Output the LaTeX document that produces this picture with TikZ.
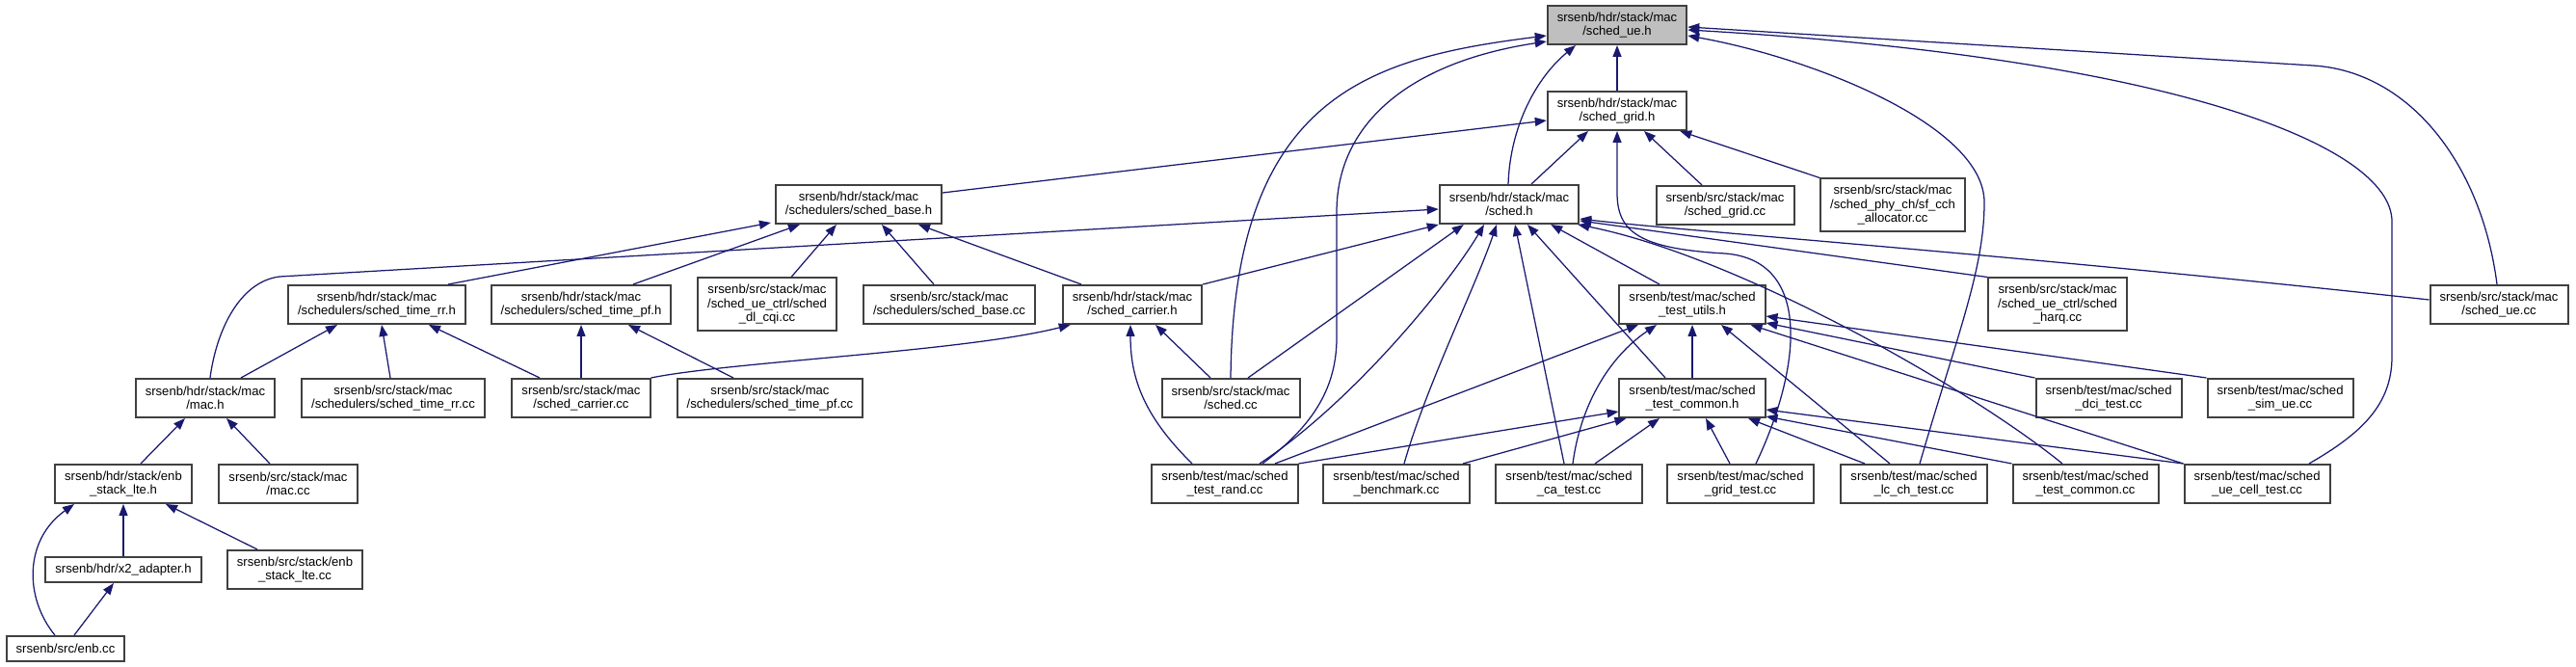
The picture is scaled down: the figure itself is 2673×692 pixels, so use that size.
\documentclass[tikz,border=0pt]{standalone}
\usepackage{fontspec}
\setmainfont{Liberation Sans}
\usetikzlibrary{arrows.meta}
\definecolor{edgeblue}{RGB}{25,25,112}
\definecolor{boxline}{RGB}{64,64,64}

\begin{document}
\begin{tikzpicture}[
    x=1pt, y=-1pt,
    file/.style={draw=boxline, line width=2pt, fill=white, align=center,
                 inner xsep=10pt, inner ysep=0pt, minimum height=40pt,
                 font=\fontsize{13.1}{14.5}\selectfont},
    file3/.style={file, minimum height=55pt},
    file1/.style={file, minimum height=26pt},
    target/.style={file, fill=black!25},
    inc/.style={draw=edgeblue, line width=1.25pt,
                -{Triangle[length=12pt, width=9pt]}},
]
\useasboundingbox (0,0) rectangle (2673,692);

% Rank 0: the header itself
\node[target] (ue) at (1678,26) {srsenb/hdr/stack/mac\\/sched\_ue.h};
% Rank 1
\node[file] (grid) at (1678,115) {srsenb/hdr/stack/mac\\/sched\_grid.h};
% Rank 2
\node[file] (base) at (891,212) {srsenb/hdr/stack/mac\\/schedulers/sched\_base.h};
\node[file] (sched) at (1566,212) {srsenb/hdr/stack/mac\\/sched.h};
\node[file] (gridcc) at (1790,213) {srsenb/src/stack/mac\\/sched\_grid.cc};
\node[file3] (cch) at (1964,213) {srsenb/src/stack/mac\\/sched\_phy\_ch/sf\_cch\\\_allocator.cc};
% Rank 3
\node[file] (rrh) at (391,316) {srsenb/hdr/stack/mac\\/schedulers/sched\_time\_rr.h};
\node[file] (pfh) at (603,316) {srsenb/hdr/stack/mac\\/schedulers/sched\_time\_pf.h};
\node[file3] (cqi) at (796,316) {srsenb/src/stack/mac\\/sched\_ue\_ctrl/sched\\\_dl\_cqi.cc};
\node[file] (basecc) at (985,316) {srsenb/src/stack/mac\\/schedulers/sched\_base.cc};
\node[file] (carrier) at (1175,316) {srsenb/hdr/stack/mac\\/sched\_carrier.h};
\node[file] (utils) at (1756,316) {srsenb/test/mac/sched\\\_test\_utils.h};
\node[file3] (harq) at (2135,316) {srsenb/src/stack/mac\\/sched\_ue\_ctrl/sched\\\_harq.cc};
\node[file] (uecc) at (2593,316) {srsenb/src/stack/mac\\/sched\_ue.cc};
% Rank 4
\node[file] (mach) at (213,413) {srsenb/hdr/stack/mac\\/mac.h};
\node[file] (rrcc) at (408,413) {srsenb/src/stack/mac\\/schedulers/sched\_time\_rr.cc};
\node[file] (carriercc) at (603,413) {srsenb/src/stack/mac\\/sched\_carrier.cc};
\node[file] (pfcc) at (799,413) {srsenb/src/stack/mac\\/schedulers/sched\_time\_pf.cc};
\node[file] (schedcc) at (1277,413) {srsenb/src/stack/mac\\/sched.cc};
\node[file] (common) at (1756,413) {srsenb/test/mac/sched\\\_test\_common.h};
\node[file] (dci) at (2188,413) {srsenb/test/mac/sched\\\_dci\_test.cc};
\node[file] (simue) at (2366,413) {srsenb/test/mac/sched\\\_sim\_ue.cc};
% Rank 5
\node[file] (stackh) at (128,502) {srsenb/hdr/stack/enb\\\_stack\_lte.h};
\node[file] (maccc) at (299,502) {srsenb/src/stack/mac\\/mac.cc};
\node[file] (rand) at (1271,502) {srsenb/test/mac/sched\\\_test\_rand.cc};
\node[file] (bench) at (1449,502) {srsenb/test/mac/sched\\\_benchmark.cc};
\node[file] (catest) at (1628,502) {srsenb/test/mac/sched\\\_ca\_test.cc};
\node[file] (gridtest) at (1806,502) {srsenb/test/mac/sched\\\_grid\_test.cc};
\node[file] (lctest) at (1986,502) {srsenb/test/mac/sched\\\_lc\_ch\_test.cc};
\node[file] (commoncc) at (2164,502) {srsenb/test/mac/sched\\\_test\_common.cc};
\node[file] (uecell) at (2342,502) {srsenb/test/mac/sched\\\_ue\_cell\_test.cc};
% Rank 6 and 7
\node[file1] (x2) at (128,591) {srsenb/hdr/x2\_adapter.h};
\node[file] (stackcc) at (306,591) {srsenb/src/stack/enb\\\_stack\_lte.cc};
\node[file1] (enbcc) at (68,673) {srsenb/src/enb.cc};

% includes of sched_ue.h
\draw[inc] (grid.north) -- (ue.south);
\draw[inc] ([xshift=-1pt]sched.north) .. controls (1567,130) and (1595,80) .. ([xshift=-43pt]ue.south);
\draw[inc] (schedcc.north) .. controls (1280,100) and (1420,60) .. ([yshift=-11pt]ue.west);
\draw[inc] ([xshift=39pt]rand.north) .. controls (1365,440) and (1387,400) .. (1387,350)
      -- (1387,220) .. controls (1387,130) and (1460,65) .. ([yshift=-17pt]ue.west);
\draw[inc] ([xshift=-2pt]uecc.north) .. controls (2575,170) and (2500,74) .. (2400,68)
      -- ([yshift=-2pt]ue.east);
\draw[inc] ([xshift=54pt]uecell.north) .. controls (2450,450) and (2482,420) .. (2482,370)
      -- (2482,230) .. controls (2482,150) and (2250,60) .. ([yshift=-5pt]ue.east);
\draw[inc] ([xshift=6pt]lctest.north) .. controls (2030,350) and (2059,280) .. (2059,210)
      .. controls (2059,130) and (1880,60) .. ([yshift=-11pt]ue.east);

% includes of sched_grid.h
\draw[inc] ([yshift=12pt]base.east) -- ([yshift=-10pt]grid.west);
\draw[inc] ([xshift=23pt]sched.north) -- ([xshift=-30pt]grid.south);
\draw[inc] ([xshift=-24pt]gridcc.north) -- ([xshift=28pt]grid.south);
\draw[inc] (cch.north west) -- ([xshift=-8pt]grid.south east);
\draw[inc] ([xshift=16pt]gridtest.north) .. controls (1870,380) and (1880,270) .. (1790,263)
      .. controls (1700,258) and (1678,240) .. (1678,200) -- (grid.south);

% includes of sched_base.h
\draw[inc] ([xshift=74pt]rrh.north) -- ([xshift=-4pt,yshift=2pt]base.south west);
\draw[inc] ([xshift=54pt]pfh.north) -- ([xshift=26pt]base.south west);
\draw[inc] ([xshift=25pt]cqi.north) -- ([xshift=64pt]base.south west);
\draw[inc] ([xshift=-16pt]basecc.north) -- ([xshift=24pt]base.south);
\draw[inc] ([xshift=-53pt]carrier.north) -- ([xshift=62pt]base.south);

% includes of sched.h
\draw[inc] ([xshift=5pt]mach.north) .. controls (225,340) and (250,292) .. (290,287)
      -- ([yshift=-5pt]sched.west);
\draw[inc] (carrier.north east) -- (sched.south west);
\draw[inc] ([xshift=18pt]schedcc.north) -- ([xshift=26pt]sched.south west);
\draw[inc] ([xshift=36pt]rand.north) .. controls (1400,420) and (1500,300) .. ([xshift=-26pt]sched.south);
\draw[inc] ([xshift=8pt]bench.north) .. controls (1480,400) and (1530,300) .. ([xshift=-13pt]sched.south);
\draw[inc] ([xshift=-5pt]catest.north) -- ([xshift=6pt]sched.south);
\draw[inc] ([xshift=-28pt]common.north) -- ([xshift=19pt]sched.south);
\draw[inc] ([xshift=-34pt]utils.north) -- ([xshift=-30pt]sched.south east);
\draw[inc] (harq.north west) -- ([yshift=4pt]sched.south east);
\draw[inc] ([yshift=5pt]uecc.west) .. controls (2100,265) and (1750,240) .. ([yshift=6pt]sched.south east);
\draw[inc] ([xshift=-24pt]commoncc.north) .. controls (2040,400) and (1800,265) .. ([xshift=-2pt]sched.south east);

% includes of sched_test_utils.h
\draw[inc] (common.north) -- (utils.south);
\draw[inc] ([xshift=52pt]rand.north) -- ([xshift=-56pt]utils.south);
\draw[inc] ([xshift=4pt]catest.north) .. controls (1640,420) and (1670,370) .. ([xshift=-37pt]utils.south);
\draw[inc] ([xshift=-25pt]lctest.north) -- ([xshift=30pt]utils.south);
\draw[inc] (uecell.north west) -- ([xshift=-16pt]utils.south east);
\draw[inc] (dci.north west) -- ([yshift=2pt]utils.south east);
\draw[inc] (simue.north west) -- ([yshift=-12pt]utils.east);

% includes of sched_test_common.h
\draw[inc] (rand.north east) -- ([yshift=-14pt]common.west);
\draw[inc] ([xshift=69pt]bench.north) -- ([xshift=8pt]common.south west);
\draw[inc] ([xshift=27pt]catest.north) -- ([xshift=-34pt]common.south);
\draw[inc] ([xshift=-11pt]gridtest.north) -- ([xshift=14pt]common.south);
\draw[inc] ([xshift=-51pt]lctest.north) -- ([xshift=58pt]common.south);
\draw[inc] (commoncc.north west) -- ([yshift=2pt]common.south east);
\draw[inc] (uecell.north west) -- ([yshift=-12pt]common.east);

% scheduler headers
\draw[inc] ([xshift=37pt]mach.north) -- ([xshift=-41pt]rrh.south);
\draw[inc] ([xshift=-3pt]rrcc.north) -- ([xshift=5pt]rrh.south);
\draw[inc] ([xshift=-43pt]carriercc.north) -- ([xshift=54pt]rrh.south);
\draw[inc] (carriercc.north) -- (pfh.south);
\draw[inc] ([xshift=-38pt]pfcc.north) -- ([xshift=49pt]pfh.south);
\draw[inc] (carriercc.north east) .. controls (760,375) and (1000,365) .. ([xshift=9pt]carrier.south west);
\draw[inc] ([xshift=-21pt]schedcc.north) -- ([xshift=24pt]carrier.south);
\draw[inc] ([xshift=-34pt]rand.north) .. controls (1185,430) and (1173,390) .. ([xshift=-2pt]carrier.south);

% mac.h and the enb stack
\draw[inc] ([xshift=18pt]stackh.north) -- ([xshift=-21pt]mach.south);
\draw[inc] ([xshift=-19pt]maccc.north) -- ([xshift=22pt]mach.south);
\draw[inc] (x2.north) -- (stackh.south);
\draw[inc] ([xshift=-39pt]stackcc.north) -- ([xshift=44pt]stackh.south);
\draw[inc] ([xshift=-11pt]enbcc.north) .. controls (25,620) and (25,560) .. ([xshift=-51pt]stackh.south);
\draw[inc] ([xshift=9pt]enbcc.north) -- ([xshift=-10pt]x2.south);

\end{tikzpicture}
\end{document}
